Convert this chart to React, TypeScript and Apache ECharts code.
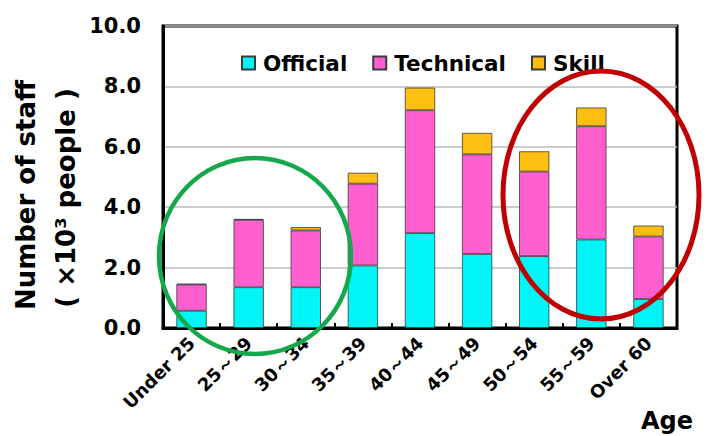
import React, { useEffect, useRef } from "react";
import * as echarts from "echarts";

const ageGroups = ["Under 25", "25～29", "30～34", "35～39", "40～44", "45～49", "50～54", "55～59", "Over 60"];
const official = [0.57, 1.35, 1.35, 2.07, 3.14, 2.45, 2.38, 2.93, 0.96];
const technical = [0.87, 2.23, 1.88, 2.71, 4.07, 3.3, 2.8, 3.75, 2.07];
const skill = [0.02, 0.03, 0.11, 0.36, 0.75, 0.71, 0.67, 0.62, 0.36];

const FONT = "'DejaVu Sans', Verdana, sans-serif";

export default function App() {
  const ref = useRef<HTMLDivElement>(null);

  useEffect(() => {
    document.body.style.margin = "0";
    if (!ref.current) return;
    const chart = echarts.init(ref.current, null, { renderer: "svg" });
    const barStyle = (color: string) => ({
      color,
      borderColor: "#3a3a3a",
      borderWidth: 0.8,
    });
    chart.setOption({
      animation: false,
      backgroundColor: "#ffffff",
      textStyle: { fontFamily: FONT },
      grid: {
        left: 163,
        right: 30,
        top: 26,
        bottom: 108,
        show: true,
        borderColor: "#000",
        borderWidth: 3,
        backgroundColor: "transparent",
      },
      legend: {
        left: 236,
        top: 47,
        itemWidth: 13,
        itemHeight: 13,
        itemGap: 25,
        icon: "rect",
        textStyle: { fontFamily: FONT, fontWeight: "bold", fontSize: 21.5, color: "#000", padding: [0, 0, 0, 3] },
        data: ["Official", "Technical", "Skill"],
      },
      xAxis: {
        type: "category",
        data: ageGroups,
        axisLine: { lineStyle: { color: "#000", width: 3 } },
        axisTick: { show: true, inside: true, length: 5, lineStyle: { color: "#000", width: 2 } },
        axisLabel: {
          rotate: 45,
          margin: 12,
          fontFamily: FONT,
          fontWeight: "bold",
          fontSize: 18,
          color: "#000",
          interval: 0,
        },
      },
      yAxis: {
        type: "value",
        min: 0,
        max: 10,
        interval: 2,
        axisLine: { show: true, lineStyle: { color: "#000", width: 3 } },
        axisTick: { show: false },
        axisLabel: {
          formatter: (v: number) => v.toFixed(1),
          fontFamily: FONT,
          fontWeight: "bold",
          fontSize: 21,
          color: "#000",
          margin: 22,
        },
        splitLine: { lineStyle: { color: "#bdbdbd", width: 1.5 } },
      },
      series: [
        { name: "Official", type: "bar", stack: "staff", barWidth: "53%", data: official, itemStyle: barStyle("#00f6f6") },
        { name: "Technical", type: "bar", stack: "staff", data: technical, itemStyle: barStyle("#ff5fcf") },
        { name: "Skill", type: "bar", stack: "staff", data: skill, itemStyle: barStyle("#ffbf10") },
      ],
      graphic: [
        {
          type: "text",
          x: 26,
          y: 195,
          rotation: Math.PI / 2,
          style: {
            text: "Number of staff",
            font: `bold 26px ${FONT}`,
            fill: "#000",
            align: "center",
            verticalAlign: "middle",
          },
        },
        {
          type: "text",
          x: 66,
          y: 198,
          rotation: Math.PI / 2,
          style: {
            text: "( ×10³ people )",
            font: `bold 26px ${FONT}`,
            fill: "#000",
            align: "center",
            verticalAlign: "middle",
          },
        },
        {
          type: "text",
          x: 667,
          y: 421,
          style: {
            text: "Age",
            font: `bold 24px ${FONT}`,
            fill: "#000",
            align: "center",
            verticalAlign: "middle",
          },
        },
        {
          type: "ellipse",
          shape: { cx: 255, cy: 256, rx: 96, ry: 98 },
          style: { fill: "none", stroke: "#14a84a", lineWidth: 4.5 },
          z: 100,
        },
        {
          type: "ellipse",
          shape: { cx: 601, cy: 195, rx: 98, ry: 124 },
          style: { fill: "none", stroke: "#c00000", lineWidth: 5 },
          z: 100,
        },
      ],
    });
    return () => chart.dispose();
  }, []);

  return <div ref={ref} style={{ width: 707, height: 436 }} />;
}
